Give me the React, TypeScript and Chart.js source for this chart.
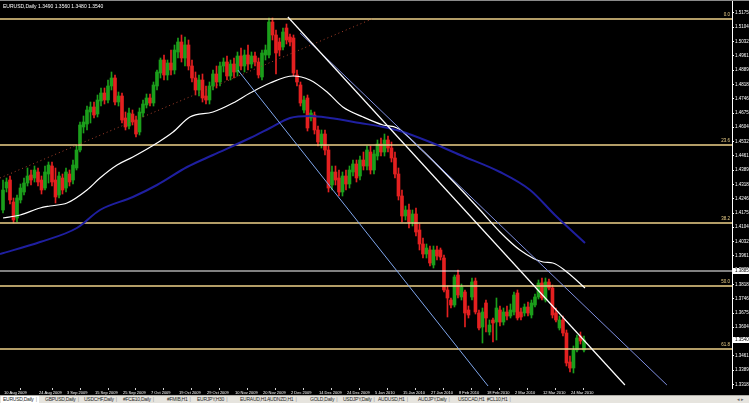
import React, { useEffect, useRef } from "react";
import { Chart, registerables } from "chart.js";

Chart.register(...registerables);

const SYMBOL = "EURUSD,Daily";

const OPEN = [
  1.4190, 1.4300, 1.4340, 1.4230, 1.4150, 1.4240, 1.4280, 1.4325, 1.4365, 1.4350,
  1.4380, 1.4340, 1.4300, 1.4370, 1.4410, 1.4340, 1.4265, 1.4350, 1.4300, 1.4370,
  1.4340, 1.4400, 1.4490, 1.4605, 1.4620, 1.4680, 1.4705, 1.4670, 1.4735, 1.4775,
  1.4740, 1.4810, 1.4850, 1.4730, 1.4760, 1.4650, 1.4610, 1.4670, 1.4640, 1.4580,
  1.4675, 1.4715, 1.4750, 1.4725, 1.4810, 1.4875, 1.4940, 1.4865, 1.4925, 1.4890,
  1.4980, 1.5030, 1.4950, 1.5015, 1.4910, 1.4850, 1.4790, 1.4840, 1.4760, 1.4740,
  1.4810, 1.4870, 1.4830, 1.4910, 1.4930, 1.4860, 1.4920, 1.4880, 1.4960, 1.4910,
  1.4965, 1.4920, 1.4960, 1.4930, 1.4855, 1.4965, 1.4965, 1.5130, 1.5065, 1.5030,
  1.5005, 1.5100, 1.5055, 1.5050, 1.4865, 1.4815, 1.4690, 1.4750, 1.4650, 1.4665,
  1.4590, 1.4515, 1.4570, 1.4490, 1.4315, 1.4380, 1.4350, 1.4280, 1.4360, 1.4320,
  1.4380, 1.4420, 1.4360, 1.4440, 1.4410, 1.4480, 1.4390, 1.4460, 1.4520, 1.4480,
  1.4540, 1.4500, 1.4450, 1.4370, 1.4260, 1.4160, 1.4190, 1.4130, 1.4170, 1.4090,
  1.4020, 1.3970, 1.3990, 1.3915, 1.3990, 1.3990, 1.3950, 1.3790, 1.3740, 1.3715,
  1.3865, 1.3755, 1.3780, 1.3690, 1.3755, 1.3835, 1.3675, 1.3605, 1.3725, 1.3580,
  1.3640, 1.3630, 1.3690, 1.3630, 1.3680, 1.3660, 1.3680, 1.3775, 1.3680, 1.3675,
  1.3705, 1.3665, 1.3715, 1.3755, 1.3825, 1.3740, 1.3830, 1.3800, 1.3675, 1.3600,
  1.3640, 1.3575, 1.3430, 1.3400, 1.3490, 1.3560, 1.3490,
];
const HIGH = [
  1.4340, 1.4350, 1.4360, 1.4250, 1.4265, 1.4320, 1.4350, 1.4400, 1.4390, 1.4410,
  1.4400, 1.4360, 1.4410, 1.4430, 1.4430, 1.4400, 1.4380, 1.4370, 1.4400, 1.4390,
  1.4440, 1.4510, 1.4630, 1.4660, 1.4710, 1.4730, 1.4730, 1.4765, 1.4800, 1.4800,
  1.4840, 1.4880, 1.4865, 1.4780, 1.4775, 1.4680, 1.4700, 1.4690, 1.4660, 1.4700,
  1.4740, 1.4770, 1.4770, 1.4830, 1.4890, 1.4950, 1.4965, 1.4940, 1.4990, 1.5015,
  1.5050, 1.5065, 1.5055, 1.5040, 1.4940, 1.4880, 1.4865, 1.4870, 1.4810, 1.4830,
  1.4890, 1.4910, 1.4930, 1.4950, 1.4960, 1.4940, 1.4950, 1.4980, 1.5000, 1.4990,
  1.5015, 1.4980, 1.4980, 1.4950, 1.4990, 1.5015, 1.5150, 1.5150, 1.5090, 1.5050,
  1.5100, 1.5120, 1.5070, 1.5065, 1.4890, 1.4830, 1.4760, 1.4765, 1.4690, 1.4680,
  1.4610, 1.4590, 1.4590, 1.4510, 1.4410, 1.4410, 1.4390, 1.4380, 1.4390, 1.4410,
  1.4440, 1.4440, 1.4460, 1.4480, 1.4510, 1.4510, 1.4490, 1.4540, 1.4550, 1.4570,
  1.4560, 1.4530, 1.4480, 1.4400, 1.4290, 1.4210, 1.4220, 1.4190, 1.4200, 1.4120,
  1.4050, 1.4020, 1.4010, 1.4010, 1.4010, 1.4000, 1.3965, 1.3810, 1.3750, 1.3865,
  1.3890, 1.3820, 1.3790, 1.3710, 1.3850, 1.3850, 1.3690, 1.3700, 1.3740, 1.3640,
  1.3650, 1.3750, 1.3710, 1.3700, 1.3710, 1.3720, 1.3780, 1.3790, 1.3700, 1.3720,
  1.3730, 1.3740, 1.3770, 1.3840, 1.3850, 1.3850, 1.3845, 1.3815, 1.3700, 1.3660,
  1.3660, 1.3590, 1.3460, 1.3510, 1.3565, 1.3580, 1.3560,
];
const LOW = [
  1.4175, 1.4280, 1.4220, 1.4125, 1.4130, 1.4225, 1.4265, 1.4310, 1.4315, 1.4330,
  1.4310, 1.4270, 1.4290, 1.4325, 1.4310, 1.4225, 1.4250, 1.4270, 1.4280, 1.4310,
  1.4320, 1.4390, 1.4480, 1.4575, 1.4590, 1.4625, 1.4650, 1.4655, 1.4710, 1.4720,
  1.4725, 1.4790, 1.4715, 1.4710, 1.4625, 1.4590, 1.4595, 1.4615, 1.4555, 1.4565,
  1.4655, 1.4700, 1.4710, 1.4710, 1.4790, 1.4850, 1.4840, 1.4840, 1.4865, 1.4870,
  1.4950, 1.4930, 1.4910, 1.4890, 1.4830, 1.4765, 1.4760, 1.4730, 1.4720, 1.4720,
  1.4790, 1.4800, 1.4810, 1.4880, 1.4840, 1.4840, 1.4850, 1.4860, 1.4890, 1.4880,
  1.4890, 1.4900, 1.4910, 1.4850, 1.4840, 1.4940, 1.4950, 1.5040, 1.4870, 1.4960,
  1.4990, 1.5020, 1.5010, 1.4860, 1.4810, 1.4710, 1.4675, 1.4585, 1.4635, 1.4570,
  1.4510, 1.4500, 1.4465, 1.4280, 1.4290, 1.4315, 1.4260, 1.4260, 1.4290, 1.4300,
  1.4360, 1.4330, 1.4340, 1.4390, 1.4390, 1.4370, 1.4370, 1.4440, 1.4460, 1.4460,
  1.4480, 1.4430, 1.4350, 1.4240, 1.4130, 1.4140, 1.4100, 1.4110, 1.4060, 1.3990,
  1.3950, 1.3950, 1.3910, 1.3900, 1.3940, 1.3940, 1.3780, 1.3655, 1.3700, 1.3705,
  1.3750, 1.3740, 1.3605, 1.3650, 1.3740, 1.3670, 1.3590, 1.3525, 1.3580, 1.3565,
  1.3530, 1.3540, 1.3610, 1.3615, 1.3640, 1.3650, 1.3665, 1.3640, 1.3640, 1.3660,
  1.3660, 1.3650, 1.3705, 1.3745, 1.3740, 1.3730, 1.3790, 1.3650, 1.3630, 1.3590,
  1.3560, 1.3410, 1.3380, 1.3375, 1.3480, 1.3520, 1.3480,
];
const CLOSE = [
  1.4290, 1.4330, 1.4240, 1.4140, 1.4250, 1.4300, 1.4325, 1.4360, 1.4340, 1.4390,
  1.4330, 1.4290, 1.4380, 1.4415, 1.4330, 1.4255, 1.4360, 1.4290, 1.4380, 1.4330,
  1.4415, 1.4490, 1.4615, 1.4630, 1.4690, 1.4705, 1.4665, 1.4740, 1.4775, 1.4740,
  1.4810, 1.4850, 1.4730, 1.4760, 1.4640, 1.4605, 1.4675, 1.4630, 1.4570, 1.4680,
  1.4720, 1.4750, 1.4725, 1.4815, 1.4880, 1.4940, 1.4865, 1.4925, 1.4890, 1.4990,
  1.5030, 1.4950, 1.5015, 1.4910, 1.4850, 1.4790, 1.4840, 1.4750, 1.4740, 1.4810,
  1.4870, 1.4830, 1.4910, 1.4930, 1.4860, 1.4920, 1.4880, 1.4960, 1.4910, 1.4965,
  1.4920, 1.4960, 1.4930, 1.4865, 1.4975, 1.4990, 1.5130, 1.5065, 1.4975, 1.4990,
  1.5080, 1.5040, 1.5030, 1.4875, 1.4830, 1.4725, 1.4740, 1.4600, 1.4675, 1.4590,
  1.4530, 1.4570, 1.4490, 1.4300, 1.4380, 1.4340, 1.4280, 1.4360, 1.4320, 1.4390,
  1.4420, 1.4350, 1.4440, 1.4410, 1.4490, 1.4390, 1.4470, 1.4520, 1.4480, 1.4540,
  1.4500, 1.4450, 1.4370, 1.4260, 1.4160, 1.4190, 1.4130, 1.4170, 1.4080, 1.4020,
  1.3970, 1.4000, 1.3925, 1.3990, 1.3960, 1.3955, 1.3790, 1.3750, 1.3715, 1.3855,
  1.3765, 1.3805, 1.3675, 1.3665, 1.3830, 1.3680, 1.3600, 1.3680, 1.3650, 1.3615,
  1.3625, 1.3700, 1.3630, 1.3680, 1.3660, 1.3690, 1.3765, 1.3650, 1.3655, 1.3705,
  1.3675, 1.3725, 1.3755, 1.3825, 1.3750, 1.3830, 1.3800, 1.3665, 1.3640, 1.3640,
  1.3575, 1.3425, 1.3400, 1.3490, 1.3550, 1.3535, 1.3540,
];

// Moving averages (bar index, price)
const MA_FAST_BARS = [0, 4.9, 10.6, 13.4, 18.3, 24, 27.7, 32.6, 37.1, 44, 48.6, 53.4, 60, 65.7, 70.6, 76.3, 82.9, 87.7, 92.6, 97.1, 102.9, 108.6, 112.6, 119.1, 127.7, 136.3, 142, 147.7, 154.3, 157.1, 161.1, 166.3];
const MA_FAST_VALUES = [1.4150, 1.4165, 1.4200, 1.4210, 1.4225, 1.4290, 1.4350, 1.4415, 1.4455, 1.4525, 1.4580, 1.4655, 1.4680, 1.4725, 1.4775, 1.4825, 1.4860, 1.4840, 1.4780, 1.4705, 1.4655, 1.4615, 1.4600, 1.4500, 1.4350, 1.4190, 1.4080, 1.3990, 1.3930, 1.3925, 1.3880, 1.3800];
const MA_SLOW_BARS = [-0.86, 10.6, 21.1, 27.7, 37.1, 44, 52.6, 60, 70.6, 76.3, 82, 87.7, 93.4, 102, 108.6, 113.4, 122, 130.6, 142, 150.6, 157.7, 166.3];
const MA_SLOW_VALUES = [1.3970, 1.4030, 1.4100, 1.4190, 1.4255, 1.4315, 1.4405, 1.4465, 1.4550, 1.4600, 1.4650, 1.4660, 1.4650, 1.4625, 1.4605, 1.4585, 1.4530, 1.4465, 1.4380, 1.4290, 1.4165, 1.4025];

// Trend lines (bar index, price) pairs
const TL_WHITE_BARS = [81.4, 177.7];
const TL_WHITE_PRICES = [1.5155, 1.3315];
const TL_BLUE_UP_BARS = [84.9, 189.7];
const TL_BLUE_UP_PRICES = [1.5075, 1.3315];
const TL_BLUE_LOW_BARS = [67.1, 138.6];
const TL_BLUE_LOW_PRICES = [1.4890, 1.3310];
const TL_DOT_BARS = [-0.86, 105.4];
const TL_DOT_PRICES = [1.4350, 1.5145];

// Fibonacci retracement
const FIB_HIGH = 1.5145;
const FIB_LOW = 1.2475;
const FIB_LEVELS = [0, 23.6, 38.2, 50.0, 61.8];
const H_LINE = 1.3885;

const Y_TICKS = [1.5175, 1.5104, 1.5032, 1.4961, 1.4889, 1.4818, 1.4746, 1.4675, 1.4604, 1.4532, 1.4461, 1.4389, 1.4318, 1.4246, 1.4175, 1.4104, 1.4032, 1.3961, 1.3889, 1.3818, 1.3746, 1.3675, 1.3604, 1.3532, 1.3461, 1.3389, 1.3318];
const X_TICK_BARS = [0, 10, 18, 26, 34, 42, 50, 58, 66, 74, 82, 90, 98, 106, 114, 122, 130, 138, 146, 154, 162];
const X_TICK_LABELS = ["10 Aug 2009", "24 Aug 2009", "3 Sep 2009", "15 Sep 2009", "25 Sep 2009", "7 Oct 2009", "19 Oct 2009", "29 Oct 2009", "10 Nov 2009", "20 Nov 2009", "2 Dec 2009", "14 Dec 2009", "24 Dec 2009", "5 Jan 2010", "15 Jan 2010", "27 Jan 2010", "8 Feb 2010", "18 Feb 2010", "2 Mar 2010", "12 Mar 2010", "24 Mar 2010"];

const TABS = ["EURUSD,Daily", "GBPUSD,Daily", "USDCHF,Daily", "#FCE10,Daily", "#FMIB,H1", "EURJPY,H30", "EURAUD,H1", "AUDNZD,H1", "GOLD,Daily", "USDJPY,Daily", "AUDUSD,H1", "AUDJPY,Daily", "USDCAD,H1", "#CL10,H1"];
const TAB_LEFTS = [3, 45, 84, 123, 167, 197, 240, 267, 310, 343, 378, 418, 458, 487];

const X_MIN = -0.86;
const X_MAX = 208.3;
const Y_MIN = 1.33;
const Y_MAX = 1.524;

const BULL = "#1b9f1b";
const BEAR = "#e42020";
const FIB_COLOR = "#efd28a";
const FONT = '"Liberation Sans", Arial, sans-serif';

const pts = (xs: number[], ys: number[]) => xs.map((x, i) => ({ x, y: ys[i] }));

export default function App() {
  const ref = useRef<HTMLCanvasElement>(null);

  useEffect(() => {
    const canvas = ref.current!;
    const idx = OPEN.map((_, i) => i);
    const colors = idx.map((i) => (CLOSE[i] >= OPEN[i] ? BULL : BEAR));
    const fibPrices = FIB_LEVELS.map((l) => FIB_HIGH - ((FIB_HIGH - FIB_LOW) * l) / 100);
    const hline = (p: number, color: string, width: number) => ({
      type: "line" as const,
      data: [{ x: X_MIN, y: p }, { x: X_MAX, y: p }],
      borderColor: color,
      borderWidth: width,
      pointRadius: 0,
      order: 3,
    });
    const tline = (xs: number[], ys: number[], color: string, width: number, dash: number[] = []) => ({
      type: "line" as const,
      data: pts(xs, ys),
      borderColor: color,
      borderWidth: width,
      borderDash: dash,
      pointRadius: 0,
      tension: 0,
      order: 1,
    });

    const overlay = {
      id: "mt4overlay",
      beforeDraw(chart: any) {
        const { ctx } = chart;
        ctx.save();
        ctx.fillStyle = "#000";
        ctx.fillRect(0, 0, chart.width, chart.height);
        ctx.restore();
      },
      afterDraw(chart: any) {
        const { ctx, chartArea, scales } = chart;
        const y = scales.y;
        ctx.save();
        ctx.fillStyle = "#8a8a8a";
        ctx.fillRect(0, 0, chart.width, 1);
        const n = OPEN.length - 1;
        ctx.font = `5px ${FONT}`;
        ctx.textBaseline = "middle";
        ctx.textAlign = "left";
        ctx.fillStyle = "#ffffff";
        ctx.fillText(
          `${SYMBOL} ${OPEN[n].toFixed(4)} ${HIGH[n].toFixed(4)} ${LOW[n].toFixed(4)} ${CLOSE[n].toFixed(4)}`,
          3,
          7
        );
        ctx.font = `4.5px ${FONT}`;
        ctx.textAlign = "right";
        ctx.fillStyle = FIB_COLOR;
        FIB_LEVELS.forEach((l, i) => {
          const py = y.getPixelForValue(fibPrices[i]);
          ctx.fillText(l.toFixed(1), chartArea.right - 2, py - 4);
        });
        ctx.textAlign = "left";
        [H_LINE, CLOSE[n]].forEach((v) => {
          const py = y.getPixelForValue(v);
          ctx.fillStyle = "#ffffff";
          ctx.fillRect(chartArea.right + 1, py - 3, 16, 6);
          ctx.fillStyle = "#000000";
          ctx.fillText(v.toFixed(4), chartArea.right + 3, py);
        });
        ctx.restore();
      },
    };

    const chart = new Chart(canvas, {
      type: "bar",
      data: {
        datasets: [
          {
            type: "bar",
            data: idx.map((i) => ({ x: i, y: [LOW[i], HIGH[i]] })) as any,
            backgroundColor: colors,
            barThickness: 1,
            grouped: false,
            order: 6,
          },
          {
            type: "bar",
            data: idx.map((i) => ({ x: i, y: [OPEN[i], CLOSE[i]] })) as any,
            backgroundColor: colors,
            barThickness: 3,
            minBarLength: 1,
            grouped: false,
            order: 5,
          },
          ...fibPrices.map((p) => hline(p, FIB_COLOR, 1.5)),
          hline(H_LINE, "#ffffff", 1.2),
          {
            type: "line",
            data: pts(MA_SLOW_BARS, MA_SLOW_VALUES),
            borderColor: "#1f1fa0",
            borderWidth: 2,
            pointRadius: 0,
            tension: 0.4,
            cubicInterpolationMode: "monotone",
            order: 2,
          },
          {
            type: "line",
            data: pts(MA_FAST_BARS, MA_FAST_VALUES),
            borderColor: "#ffffff",
            borderWidth: 1.2,
            pointRadius: 0,
            tension: 0.4,
            cubicInterpolationMode: "monotone",
            order: 2,
          },
          tline(TL_WHITE_BARS, TL_WHITE_PRICES, "#ffffff", 1.2),
          tline(TL_BLUE_UP_BARS, TL_BLUE_UP_PRICES, "#7f8fe0", 1),
          tline(TL_BLUE_LOW_BARS, TL_BLUE_LOW_PRICES, "#7fa6ec", 1),
          tline(TL_DOT_BARS, TL_DOT_PRICES, "#a8402a", 1, [1, 3]),
        ] as any,
      },
      options: {
        responsive: false,
        animation: false,
        devicePixelRatio: 1,
        events: [],
        layout: { padding: 0 },
        plugins: { legend: { display: false }, tooltip: { enabled: false }, title: { display: false } },
        scales: {
          x: {
            type: "linear",
            min: X_MIN,
            max: X_MAX,
            bounds: "data",
            offset: false,
            grid: { display: true, drawOnChartArea: false, drawTicks: true, tickLength: 2, color: "#cfcfcf" },
            border: { display: false },
            ticks: {
              autoSkip: false,
              maxRotation: 0,
              minRotation: 0,
              align: "start",
              padding: 0,
              labelOffset: 1,
              color: "#ffffff",
              font: { family: FONT, size: 4 },
              callback: (v: any) => {
                const k = X_TICK_BARS.indexOf(Number(v));
                return k >= 0 ? X_TICK_LABELS[k] : "";
              },
            },
            afterBuildTicks: (s: any) => {
              s.ticks = X_TICK_BARS.map((v) => ({ value: v }));
            },
            afterFit: (s: any) => {
              s.height = 15;
              s.paddingLeft = 0;
              s.paddingRight = 0;
            },
          },
          y: {
            type: "linear",
            position: "right",
            min: Y_MIN,
            max: Y_MAX,
            bounds: "data",
            grid: { display: true, drawOnChartArea: false, drawTicks: true, tickLength: 2, color: "#ffffff" },
            border: { display: true, color: "#ffffff", width: 1 },
            ticks: {
              autoSkip: false,
              padding: 1,
              color: "#ffffff",
              font: { family: FONT, size: 4.5 },
              callback: (v: any) => Number(v).toFixed(4),
            },
            afterBuildTicks: (s: any) => {
              s.ticks = Y_TICKS.map((v) => ({ value: v }));
            },
            afterFit: (s: any) => {
              s.width = 17;
              s.paddingTop = 0;
              s.paddingBottom = 0;
            },
          },
        },
      } as any,
      plugins: [overlay],
    });
    return () => chart.destroy();
  }, []);

  return (
    <div style={{ position: "fixed", left: 0, top: 0, width: 749, height: 403, background: "#000", overflow: "hidden" }}>
      <canvas ref={ref} width={749} height={403} style={{ display: "block", width: 749, height: 403 }} />
      <div
        style={{
          position: "absolute",
          left: 0,
          top: 395,
          width: 749,
          height: 8,
          background: "#e6e4de",
          borderTop: "1px solid #b0aea8",
          fontFamily: FONT,
          fontSize: 5,
          letterSpacing: "-0.25px",
          lineHeight: "7px",
          color: "#2a2a2a",
        }}
      >
        {TABS.map((t, i) => (
          <span
            key={t}
            style={{
              position: "absolute",
              left: TAB_LEFTS[i] - 2,
              top: 0,
              padding: "0 2px",
              background: i === 0 ? "#ffffff" : "transparent",
              whiteSpace: "nowrap",
            }}
          >
            {t}
            <span style={{ color: "#8a8a8a", marginLeft: 2 }}>|</span>
          </span>
        ))}
        <span style={{ position: "absolute", left: 737, top: 0, color: "#6a6a6a" }}>◂ ▸</span>
      </div>
    </div>
  );
}
